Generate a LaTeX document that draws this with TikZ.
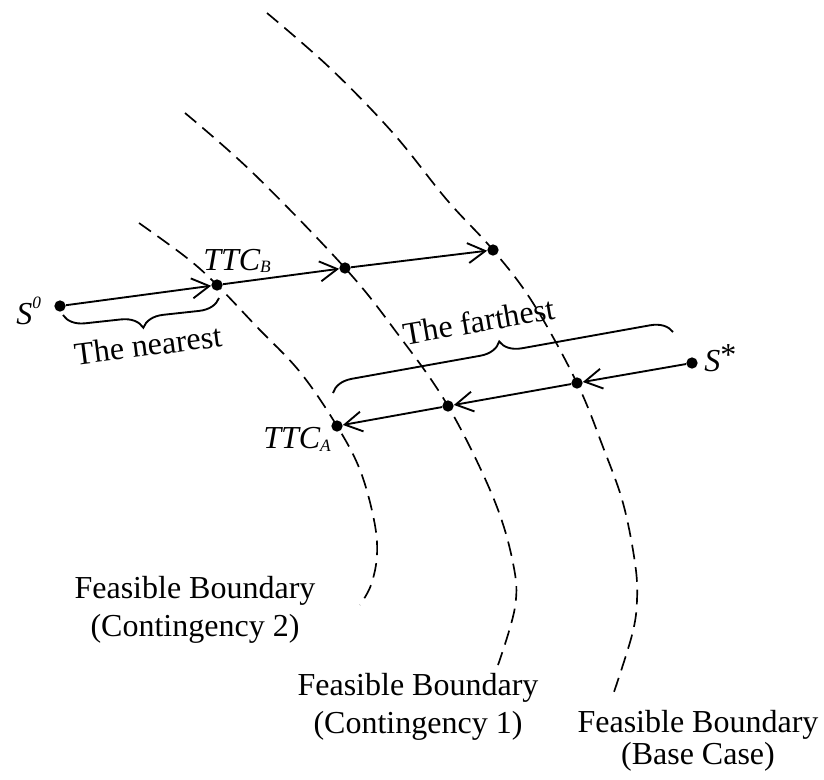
\documentclass[tikz,border=0pt]{standalone}
\usepackage{fontspec}
\setmainfont{Liberation Serif}
\usetikzlibrary{arrows.meta,decorations.pathreplacing}
\begin{document}
\begin{tikzpicture}[x=0.75pt,y=-0.75pt,
  dot/.style={circle,fill=black,inner sep=0pt,minimum size=8.5pt},
  arr/.style={line width=1.4pt,-{Straight Barb[length=13pt,width=15pt]}},
  bnd/.style={line width=1.25pt,dash pattern=on 11pt off 6pt},
  brc/.style={line width=1.4pt,decorate,decoration={brace,amplitude=16pt}},
  txt/.style={font=\fontsize{24}{28.5}\selectfont,inner sep=0pt,align=center},
  sym/.style={font=\fontsize{24}{28.5}\selectfont\itshape,inner sep=0pt}
]
\useasboundingbox (0,0) rectangle (824,779);

% points on the trajectories
\node[dot] (s0) at (60,306) {};
\node[dot] (ttcb) at (217,285) {};
\node[dot] (b2) at (345,268) {};
\node[dot] (b3) at (493,250) {};
\node[dot] (sstar) at (692,363) {};
\node[dot] (a1) at (577,383) {};
\node[dot] (a2) at (448,406) {};
\node[dot] (ttca) at (337,426) {};

% feasible boundaries
\draw[bnd] plot[smooth,tension=0.6] coordinates {(139,223) (187,258) (ttcb.center) (257,327) (300,372) (ttca.center) (360,470) (374,520) (377,555) (371,585) (360,605)};
\draw[bnd] plot[smooth,tension=0.6] coordinates {(185,113) (253,173) (b2.center) (397,333) (a2.center) (493,497) (513,563) (515,607) (498,665)};
\draw[bnd] plot[smooth,tension=0.6] coordinates {(267,13) (330,68) (393,133) (447,200) (b3.center) (533,303) (a1.center) (603,447) (623,503) (635,563) (637,600) (632,635) (613,695)};

% trajectories
\draw[arr] (s0) -- (ttcb);
\draw[arr] (ttcb) -- (b2);
\draw[arr] (b2) -- (b3);
\draw[arr] (sstar) -- (a1);
\draw[arr] (a1) -- (a2);
\draw[arr] (a2) -- (ttca);

% braces
\coordinate (nbr) at (219,298);
\coordinate (nbl) at (63,315);
\draw[brc] (nbr) -- (nbl);
\coordinate (fbl) at (333,393);
\coordinate (fbr) at (673,332);
\draw[brc] (fbl) -- (fbr);

\node[txt,rotate=7.4] (nearest) at (148,345) {The nearest};
\node[txt,rotate=9.8] (farthest) at (479,321) {The farthest};

% symbols
\node[sym,anchor=base west] (ls0) at (16,324) {S\raisebox{12pt}{\fontsize{13}{13}\selectfont 0}};
\node[sym,anchor=base west] (lttcb) at (203,270) {TTC\raisebox{-2pt}{\fontsize{13}{13}\selectfont B}};
\node[sym,anchor=base west] (lttca) at (263,448) {TTC\raisebox{-2.5pt}{\fontsize{13}{13}\selectfont A}};
\node[sym,anchor=base west] (lsstar) at (704,371) {S\raisebox{4pt}{\upshape *}};

% boundary labels
\node[txt] (c2) at (195,610) {Feasible Boundary\\(Contingency 2)};
\node[txt] (c1) at (418,707) {Feasible Boundary\\(Contingency 1)};
\node[txt,font=\fontsize{24}{24}\selectfont] (c0) at (698,741) {Feasible Boundary\\(Base Case)};
\end{tikzpicture}
\end{document}
